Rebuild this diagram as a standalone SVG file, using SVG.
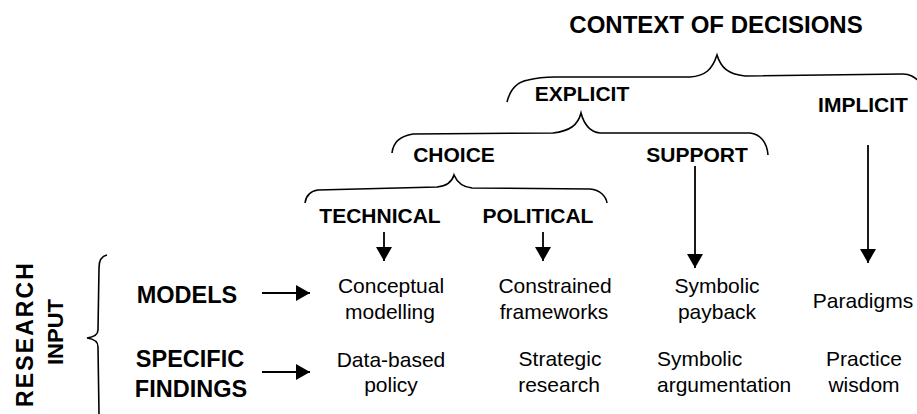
<svg xmlns="http://www.w3.org/2000/svg" width="917" height="414" viewBox="0 0 917 414">
<defs>
<style>
.b{font-family:"Liberation Sans",Arial,sans-serif;font-weight:bold;font-size:21px;fill:#000;text-anchor:middle}
.r{font-family:"Liberation Sans",Arial,sans-serif;font-size:21px;fill:#000;text-anchor:middle}
.l{stroke:#000;stroke-width:1.8;fill:none}
.br{stroke:#000;stroke-width:1.6;fill:none}
</style>
<marker id="ah" markerUnits="userSpaceOnUse" markerWidth="18" markerHeight="16" refX="14" refY="8" orient="auto">
<path d="M0,0 L14,8 L0,16 Z" fill="#000"/>
</marker>
</defs>
<rect width="917" height="414" fill="#fff"/>

<g id="braces">
<path class="br" d="M507,102 C510,90 516,82 528,80 C536,78 545,77 555,77 L690,77 C705,76 712,70 717,55 C721,68 728,74 745,76 L903,74 C910,74 914,77 919,81"/>
<path class="br" d="M392,153 C393,143 400,136 413,134 L553,133 C570,131 578,125 581,113 C584,124 590,132 600,133 L750,133 C760,134 767,142 768,155"/>
<path class="br" d="M305,203 C306,196 310,191 318,190 L437,187 C447,186 452,182 454,175 C457,182 462,187 472,188 L590,189 C600,190 606,196 607,203"/>
<path class="br" d="M107,255 C102,256 99,260 99,268 L98,330 C98,335 94,337 87,338 C94,339 98,341 98,347 L99,414"/>
</g>

<g id="title"><text class="b" x="716" y="33" style="font-size:24px">CONTEXT OF DECISIONS</text></g>
<g id="explicit"><text class="b" x="582" y="101">EXPLICIT</text></g>
<g id="implicit"><text class="b" x="863" y="112">IMPLICIT</text></g>
<g id="choice"><text class="b" x="454" y="162">CHOICE</text></g>
<g id="support"><text class="b" x="697" y="162">SUPPORT</text></g>
<g id="technical"><text class="b" x="380" y="223">TECHNICAL</text></g>
<g id="political"><text class="b" x="538" y="223">POLITICAL</text></g>

<g id="research-input">
<text class="b" transform="translate(33,335) rotate(-90)" style="font-size:23px" textLength="144" lengthAdjust="spacing">RESEARCH</text>
<text class="b" transform="translate(63,332) rotate(-90)" style="font-size:22px">INPUT</text>
</g>
<g id="models"><text class="b" x="187" y="303" style="font-size:23.5px">MODELS</text></g>
<g id="specific-findings">
<text class="b" x="190" y="367" style="font-size:23.5px">SPECIFIC</text>
<text class="b" x="191" y="397" style="font-size:23.5px">FINDINGS</text>
</g>

<g id="conceptual-modelling"><text class="r" x="391" y="293">Conceptual</text><text class="r" x="390" y="319">modelling</text></g>
<g id="constrained-frameworks"><text class="r" x="555" y="293">Constrained</text><text class="r" x="554" y="319">frameworks</text></g>
<g id="symbolic-payback"><text class="r" x="717" y="293">Symbolic</text><text class="r" x="717" y="319">payback</text></g>
<g id="paradigms"><text class="r" x="863" y="308">Paradigms</text></g>
<g id="data-based-policy"><text class="r" x="391" y="367">Data-based</text><text class="r" x="391" y="392">policy</text></g>
<g id="strategic-research"><text class="r" x="560" y="366">Strategic</text><text class="r" x="559" y="392">research</text></g>
<g id="symbolic-argumentation"><text class="r" x="657" y="366" style="text-anchor:start">Symbolic</text><text class="r" x="657" y="392" style="text-anchor:start">argumentation</text></g>
<g id="practice-wisdom"><text class="r" x="864" y="366">Practice</text><text class="r" x="864" y="392">wisdom</text></g>

<g id="connectors">
<line class="l" x1="384" y1="232" x2="384" y2="261" marker-end="url(#ah)"/>
<line class="l" x1="543" y1="232" x2="543" y2="261" marker-end="url(#ah)"/>
<line class="l" x1="695" y1="166" x2="695" y2="268" marker-end="url(#ah)"/>
<line class="l" x1="868" y1="145" x2="868" y2="263" marker-end="url(#ah)"/>
<line class="l" x1="262" y1="293" x2="310" y2="293" marker-end="url(#ah)"/>
<line class="l" x1="262" y1="372" x2="310" y2="372" marker-end="url(#ah)"/>
</g>
</svg>
